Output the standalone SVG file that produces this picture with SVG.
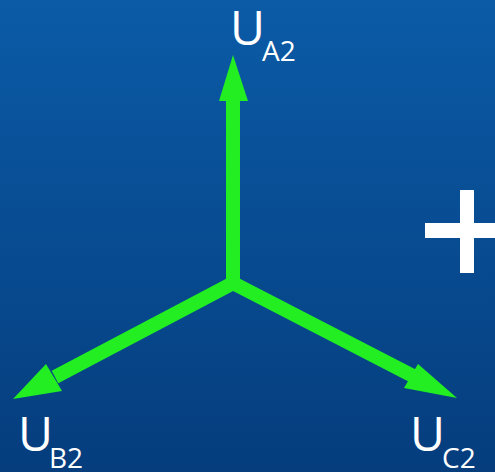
<svg xmlns="http://www.w3.org/2000/svg" width="495" height="472" viewBox="0 0 495 472">
<defs>
<linearGradient id="bg" x1="0" y1="0" x2="0" y2="1">
<stop offset="0" stop-color="#0b5ba7"/>
<stop offset="1" stop-color="#053d7d"/>
</linearGradient>
<style>
.vec{stroke:#22ee22;stroke-width:14;fill:none;stroke-linecap:butt}
.head{fill:#22ee22}
.lbl{font-family:"Open Sans","Liberation Sans",sans-serif;fill:#ffffff}
.big{font-size:48px}
.sub{font-size:28px}
</style>
</defs>
<rect width="495" height="472" fill="url(#bg)"/>
<g id="connectors">
<line class="vec" x1="233" y1="284" x2="233" y2="95"/>
<polygon class="head" points="233,55 248,101 219,101"/>
<line class="vec" x1="237" y1="281" x2="55" y2="377"/>
<polygon class="head" points="13,399 46,364 62,391"/>
<line class="vec" x1="229" y1="281" x2="415" y2="377"/>
<polygon class="head" points="457,398 404,388 418,364"/>
</g>
<g id="UA2"><text class="lbl big" x="230" y="45">U</text><text class="lbl sub" x="262" y="61">A2</text></g>
<g id="UB2"><text class="lbl big" x="18" y="451">U</text><text class="lbl sub" x="49" y="468">B2</text></g>
<g id="UC2"><text class="lbl big" x="410" y="451">U</text><text class="lbl sub" x="442" y="468">C2</text></g>
<g id="plus">
<rect x="425" y="223" width="70" height="15" fill="#ffffff"/>
<rect x="460" y="190" width="14" height="83" fill="#ffffff"/>
</g>
</svg>
